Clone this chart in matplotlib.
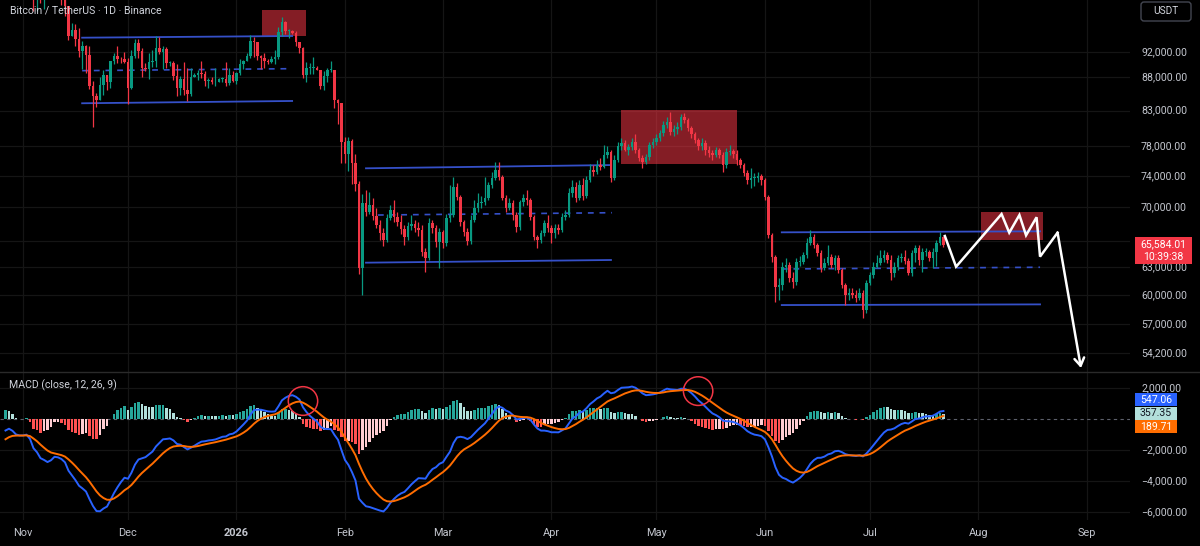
import numpy as np
import matplotlib
matplotlib.use("Agg")
import matplotlib.pyplot as plt
import matplotlib.transforms as mtransforms
from matplotlib.patches import Rectangle, Ellipse, FancyBboxPatch
from matplotlib.lines import Line2D
from matplotlib.ticker import NullLocator

plt.rcParams['font.family'] = ['Roboto', 'DejaVu Sans']

# ---------------- data ----------------
first_day = -5          # day index of the first candle (0 = 1 Nov 2025)
first_open_k = 114.5    # open of the first candle, thousand USDT

closes_k = [
    114.1, 112.9, 110.0, 108.3, 109.6, 110.1, 110.6, 106.5, 101.5, 103.9,   # -5..4
    101.3, 103.3, 102.3, 104.7, 106.0, 103.0, 101.6, 99.7, 94.6, 95.6,      # 5..14
    94.2, 92.2, 92.9, 91.5, 86.6, 85.1, 84.6, 86.8, 88.3, 87.3,             # 15..24
    90.5, 91.3, 90.9, 90.8, 90.4, 86.3, 91.3, 93.5, 92.1, 89.4,             # 25..34
    89.3, 90.4, 90.6, 92.7, 92.0, 92.5, 90.3, 90.3, 88.2, 86.4,             # 35..44
    87.8, 86.1, 85.5, 88.1, 88.3, 88.6, 88.5, 87.4, 87.6, 87.2,             # 45..54
    87.3, 87.8, 87.8, 87.1, 88.4, 87.5, 88.7, 90.0, 90.6, 91.4,             # 55..64
    93.8, 93.7, 91.3, 91.0, 90.5, 90.4, 90.8, 91.2, 95.3, 97.0,             # 65..74
    95.5, 95.5, 95.1, 93.6, 92.6, 88.3, 89.4, 89.4, 89.5, 89.2,             # 75..84
    86.6, 88.2, 89.2, 89.2, 84.5, 84.1, 78.6, 76.9, 78.7, 75.7,             # 85..94
    73.0, 62.9, 70.5, 69.45, 70.31, 68.96, 67.88, 66.94, 66.11, 68.72,      # 95..104
    69.69, 68.84, 68.24, 67.41, 66.46, 67.76, 68.00, 67.53, 67.29, 64.73,   # 105..114
    64.05, 68.12, 67.53, 65.88, 67.05, 65.77, 68.72, 69.08, 72.56, 71.31,   # 115..124
    68.24, 67.05, 66.00, 68.48, 69.94, 70.56, 70.68, 71.18, 72.82, 73.73,   # 125..134
    74.77, 73.86, 71.18, 69.94, 70.56, 69.08, 67.64, 70.68, 71.18, 70.93,   # 135..144
    68.84, 66.46, 66.11, 66.94, 68.12, 67.53, 66.94, 67.53, 67.29, 68.84,   # 145..154
    69.08, 71.81, 72.56, 71.18, 72.82, 71.43, 73.47, 74.77, 74.51, 75.43,   # 155..164
    75.16, 76.77, 77.17, 73.73, 76.10, 77.99, 78.41, 77.44, 77.85, 78.55,   # 165..174
    77.44, 76.37, 75.83, 76.50, 78.13, 78.55, 79.09, 79.79, 80.92, 81.35,   # 175..184
    79.93, 80.35, 80.64, 82.07, 81.64, 80.50, 79.65, 78.82, 77.99, 78.41,   # 185..194
    77.44, 77.04, 76.77, 77.44, 76.77, 75.43, 77.17, 77.31, 76.90, 76.10,   # 195..204
    75.43, 74.38, 73.47, 73.73, 73.73, 73.99, 73.47, 71.31, 66.70, 64.16,   # 205..214
    60.87, 61.09, 63.05, 63.27, 61.85, 61.41, 63.61, 63.61, 64.39, 65.77,   # 215..224
    66.46, 65.54, 64.62, 62.94, 63.50, 64.16, 63.27, 64.05, 62.72, 61.09,   # 225..234
    60.02, 60.23, 60.02, 59.71, 60.23, 58.46, 61.30, 62.17, 63.05, 63.50,   # 235..244
    64.05, 64.39, 63.83, 62.39, 63.05, 64.05, 64.16, 63.72, 62.39, 64.62,   # 245..254
    65.19, 63.83, 64.73, 64.73, 64.05, 64.73, 65.77, 66.46, 65.58401,       # 255..263
]
highs_k = [
    116.1, 116.0, 113.6, 111.5, 111.2, 110.6, 111.2, 110.8, 106.6, 104.5,
    104.0, 104.0, 103.4, 105.0, 106.6, 107.5, 105.3, 104.0, 99.8, 96.8,
    96.6, 96.0, 93.8, 93.2, 93.0, 87.5, 85.6, 88.0, 89.2, 88.3,
    90.6, 91.9, 93.0, 91.2, 92.0, 91.0, 92.3, 94.1, 94.1, 92.7,
    90.3, 91.8, 92.3, 94.6, 94.5, 93.0, 92.8, 90.6, 90.5, 90.1,
    88.2, 90.4, 89.5, 89.4, 88.6, 89.1, 90.6, 88.9, 87.9, 88.0,
    89.5, 87.9, 88.0, 90.4, 89.4, 89.0, 88.8, 90.9, 90.7, 91.8,
    94.8, 94.4, 93.6, 91.5, 91.8, 90.8, 91.4, 92.4, 96.2, 97.9,
    97.1, 95.8, 95.6, 95.4, 93.4, 92.8, 90.4, 90.3, 91.2, 89.8,
    89.2, 88.9, 89.4, 90.6, 89.2, 84.7, 84.1, 79.3, 79.3, 79.0,
    76.9, 73.3, 71.7, 72.19, 71.94, 71.18, 69.94, 68.48, 67.53, 69.20,
    70.31, 70.93, 69.45, 69.08, 67.88, 68.24, 69.08, 68.48, 68.24, 67.88,
    65.19, 68.72, 68.48, 67.88, 67.53, 67.29, 69.20, 72.82, 73.86, 73.08,
    71.56, 68.48, 67.53, 69.08, 70.93, 71.81, 71.43, 73.86, 73.21, 74.51,
    75.83, 75.83, 74.12, 71.56, 71.18, 70.93, 69.45, 70.93, 71.68, 72.19,
    71.18, 69.08, 66.70, 67.29, 68.48, 69.08, 67.88, 68.00, 68.00, 69.32,
    69.69, 72.44, 73.47, 73.21, 73.47, 73.73, 73.99, 75.56, 75.43, 76.10,
    76.37, 78.13, 77.99, 77.44, 76.77, 78.55, 79.09, 78.82, 78.27, 79.09,
    79.65, 77.71, 76.77, 76.90, 78.55, 79.09, 79.65, 80.21, 81.50, 82.07,
    82.79, 80.92, 81.35, 82.50, 82.64, 81.93, 80.78, 79.93, 79.09, 79.09,
    78.82, 77.99, 77.44, 77.85, 77.71, 77.17, 77.71, 78.13, 77.58, 77.44,
    76.37, 75.69, 74.77, 75.03, 74.38, 74.51, 74.25, 73.73, 71.56, 66.94,
    64.39, 61.85, 63.61, 64.05, 63.61, 62.50, 64.05, 64.28, 64.73, 66.35,
    67.29, 66.82, 65.77, 64.96, 64.05, 65.54, 64.50, 64.39, 64.39, 62.94,
    61.30, 60.76, 60.76, 60.55, 60.76, 60.55, 61.63, 62.50, 63.61, 64.39,
    64.96, 64.96, 64.73, 64.39, 63.61, 64.39, 64.62, 64.96, 64.05, 64.96,
    65.54, 65.54, 65.19, 65.19, 64.96, 65.19, 66.11, 67.05, 66.58,
]
lows_k = [
    113.8, 112.2, 109.4, 106.3, 108.4, 109.4, 109.5, 105.3, 98.9, 98.9,
    100.3, 99.3, 101.4, 101.5, 104.3, 102.5, 100.0, 98.0, 94.0, 94.6,
    93.0, 91.2, 89.3, 88.6, 86.2, 80.6, 83.5, 84.7, 85.3, 86.1,
    86.3, 90.1, 90.2, 90.3, 90.3, 83.9, 86.2, 91.0, 91.0, 88.1,
    88.9, 87.7, 89.6, 89.6, 91.6, 89.3, 89.5, 89.8, 87.6, 85.1,
    85.3, 85.3, 84.4, 85.1, 88.0, 87.6, 87.9, 86.6, 86.4, 86.9,
    86.6, 87.3, 87.3, 86.7, 86.8, 87.2, 87.0, 88.3, 89.3, 90.5,
    91.0, 91.2, 90.7, 89.3, 89.5, 90.1, 90.2, 90.0, 90.9, 94.7,
    94.9, 94.3, 94.9, 92.9, 91.9, 87.9, 87.3, 88.5, 88.5, 89.1,
    86.2, 86.1, 87.3, 88.8, 83.4, 81.1, 75.7, 75.7, 74.6, 72.9,
    72.1, 62.3, 60.0, 68.96, 69.20, 68.48, 67.53, 66.11, 65.42, 65.88,
    68.48, 68.24, 67.76, 66.82, 65.54, 66.11, 67.29, 67.05, 66.58, 64.28,
    62.50, 63.83, 66.94, 65.31, 62.94, 65.19, 65.42, 68.24, 68.84, 70.93,
    67.76, 66.58, 65.54, 65.65, 68.24, 69.45, 69.94, 70.31, 70.93, 72.44,
    73.47, 73.47, 70.93, 69.45, 69.69, 68.48, 67.05, 67.29, 70.18, 70.31,
    68.48, 66.11, 65.19, 65.77, 66.58, 67.05, 65.77, 66.35, 66.82, 67.05,
    68.48, 68.84, 71.31, 70.68, 70.93, 70.93, 71.18, 73.21, 73.99, 74.25,
    74.77, 75.03, 76.37, 73.21, 73.47, 75.83, 77.44, 77.31, 76.77, 77.44,
    77.04, 75.96, 75.03, 75.56, 76.10, 77.71, 78.13, 78.68, 79.37, 80.50,
    79.51, 79.37, 79.65, 80.21, 81.21, 80.07, 79.09, 78.41, 77.44, 77.44,
    76.77, 76.50, 76.10, 76.50, 76.37, 74.51, 75.03, 76.77, 76.37, 75.43,
    75.03, 73.99, 72.95, 72.44, 72.69, 73.21, 72.82, 70.93, 66.35, 63.61,
    59.29, 59.50, 60.55, 62.50, 61.41, 60.76, 61.09, 63.16, 63.38, 64.05,
    65.54, 65.19, 64.28, 62.50, 62.72, 63.27, 62.94, 62.72, 62.39, 60.76,
    58.98, 59.50, 59.71, 59.29, 59.50, 57.64, 58.15, 61.09, 61.85, 62.94,
    63.27, 63.61, 63.50, 61.63, 61.96, 62.72, 63.61, 63.38, 62.17, 62.06,
    63.61, 63.27, 62.50, 64.28, 63.72, 62.94, 63.16, 65.54, 65.31,
]

month_days = [0, 30, 61, 92, 120, 151, 181, 212, 242, 273, 304]
month_labels = ['Nov', 'Dec', '2026', 'Feb', 'Mar', 'Apr', 'May', 'Jun', 'Jul', 'Aug', 'Sep']

price_grid = [92000, 88000, 83000, 78000, 74000, 70000, 66000, 63000, 60000, 57000, 54200]
price_tick_labels = [92000, 88000, 83000, 78000, 74000, 70000, 63000, 60000, 57000, 54200]
macd_ticks = [2000, -2000, -4000, -6000]

# last values shown in the scale labels
last_price_label = 65584.01
countdown_label = "10:39:38"
macd_last_labels = [547.06, 357.35, 189.71]   # MACD, histogram, signal

# MACD (close, 12, 26, 9) state at the left edge of the chart
ema12_seed = 111800
ema26_seed = 112800
signal_seed = -1450

# drawings: parallel channels (day, price)
chan1_days = [16.9, 76.9]
chan1_top = [94340, 94620]
chan1_mid = [89030, 89340]
chan1_bot = [84070, 84410]
chan2_days = [98.0, 168.0]
chan2_top = [74990, 75420]
chan2_mid_days = [101.4, 168.3]
chan2_mid = [69080, 69360]
chan2_bot = [63530, 63830]
chan3_days = [216.8, 290.6]
chan3_top = [67010, 67130]
chan3_mid = [62830, 63020]
chan3_bot = [58970, 59040]

# red zones
zone_days = [(68.3, 80.9), (170.9, 204.0), (273.7, 291.5)]
zone_prices = [(94620, 99050), (75560, 83080), (66110, 69490)]

# projected path
path_days = [263.4, 266.6, 279.6, 281.8, 284.7, 286.6, 289.6, 290.6, 295.6, 302.3]
path_prices = [66580, 63080, 69200, 66970, 69080, 66660, 68810, 64210, 66970, 52790]

# circles on the MACD panel
circle_days = [80.0, 192.9]
circle_values = [1160, 1800]

# ---------------- figure ----------------
W, H = 1200, 546
fig = plt.figure(figsize=(W / 100, H / 100), dpi=100, facecolor='black')


def rect(x0, y0, x1, y1):
    return [x0 / W, 1 - y1 / H, (x1 - x0) / W, (y1 - y0) / H]


ax = fig.add_axes(rect(0, 0, 1130, 372))
axm = fig.add_axes(rect(0, 372, 1130, 520))
ax.set_yscale('log')
for a in (ax, axm):
    a.set_facecolor('black')
    for s in a.spines.values():
        s.set_visible(False)
    a.set_xlim(-6.57, 316.3)
ax.set_ylim(52425, 100800)
axm.set_ylim(-6516, 3032)
for a in (ax, axm):
    a.yaxis.set_major_locator(NullLocator())
    a.yaxis.set_minor_locator(NullLocator())
    a.xaxis.set_major_locator(NullLocator())
    a.xaxis.set_minor_locator(NullLocator())

GRID = '#151515'
for d in month_days:
    ax.axvline(d, color=GRID, lw=0.9, zorder=0)
    axm.axvline(d, color=GRID, lw=0.9, zorder=0)
for p in price_grid:
    ax.axhline(p, color=GRID, lw=0.9, zorder=0)
for v in macd_ticks:
    axm.axhline(v, color=GRID, lw=0.9, zorder=0)

# ---------------- candles ----------------
closes = np.array(closes_k) * 1000.0
highs = np.array(highs_k) * 1000.0
lows = np.array(lows_k) * 1000.0
n = len(closes)
if len(highs) != n or len(lows) != n:
    raise SystemExit(f"length mismatch {n} {len(highs)} {len(lows)}")
days = np.arange(first_day, first_day + n)
opens = np.concatenate([[first_open_k * 1000.0], closes[:-1]])
highs = np.maximum(highs, np.maximum(opens, closes))
lows = np.minimum(lows, np.minimum(opens, closes))
UP, DN = '#089981', '#F23645'
cols = np.where(closes >= opens, UP, DN)
ax.vlines(days, lows, highs, colors=cols, lw=0.9, zorder=4)
body_bot = np.minimum(opens, closes)
body_h = np.maximum(np.abs(closes - opens), closes * 0.0016)
ax.bar(days, body_h, bottom=body_bot, width=0.74, color=cols, lw=0, zorder=5)

# ---------------- drawings ----------------
CH = '#3550c8'
for dd, top, mid, bot, mdays in [
    (chan1_days, chan1_top, chan1_mid, chan1_bot, chan1_days),
    (chan2_days, chan2_top, chan2_mid, chan2_bot, chan2_mid_days),
    (chan3_days, chan3_top, chan3_mid, chan3_bot, chan3_days),
]:
    ax.plot(dd, top, color=CH, lw=1.3, zorder=3)
    ax.plot(dd, bot, color=CH, lw=1.3, zorder=3)
    ax.plot(mdays, mid, color=CH, lw=1.2, ls=(0, (3.5, 3.5)), zorder=3)

for (d0, d1), (p0, p1) in zip(zone_days, zone_prices):
    ax.add_patch(Rectangle((d0, p0), d1 - d0, p1 - p0, facecolor='#F23645',
                           alpha=0.55, edgecolor='none', zorder=2))

ax.plot(path_days[:-1], path_prices[:-1], color='white', lw=1.8, zorder=7,
        solid_joinstyle='miter')
ax.annotate('', xy=(path_days[-1], path_prices[-1]),
            xytext=(path_days[-2], path_prices[-2]),
            arrowprops=dict(arrowstyle='->,head_length=0.55,head_width=0.35',
                            color='white', lw=1.8, shrinkA=0, shrinkB=0), zorder=7)

# ---------------- MACD ----------------
e12, e26, sig = float(ema12_seed), float(ema26_seed), float(signal_seed)
macd, signal = [], []
for c in closes:
    e12 += 2.0 / 13.0 * (c - e12)
    e26 += 2.0 / 27.0 * (c - e26)
    m = e12 - e26
    sig += 0.2 * (m - sig)
    macd.append(m)
    signal.append(sig)
macd = np.array(macd)
signal = np.array(signal)
hist = macd - signal
prev = np.concatenate([[ema12_seed - ema26_seed - signal_seed], hist[:-1]])
hcol = []
for h, p in zip(hist, prev):
    if h >= 0:
        hcol.append('#26A69A' if h > p else '#B2DFDB')
    else:
        hcol.append('#FFCDD2' if h > p else '#FF5252')
axm.axhline(0, color='#5d606b', lw=0.8, ls=(0, (3, 3)), zorder=1)
axm.bar(days, hist, width=0.74, color=hcol, lw=0, zorder=2)
axm.plot(days, macd, color='#2962FF', lw=1.4, zorder=4)
axm.plot(days, signal, color='#FF6D00', lw=1.4, zorder=4)
for d, v in zip(circle_days, circle_values):
    axm.add_patch(Ellipse((d, v), 8.4, 1850, fill=False, edgecolor='#F23645',
                          lw=1.1, zorder=5))

# ---------------- texts ----------------
TXT = '#c3c6ce'
FS = 7.6
tr_p = mtransforms.blended_transform_factory(fig.transFigure, ax.transData)
for p in price_tick_labels:
    fig.text(1141 / W, p, f"{p:,.2f}", transform=tr_p, ha='left', va='center',
             color=TXT, fontsize=FS, zorder=3)
tr_m = mtransforms.blended_transform_factory(fig.transFigure, axm.transData)
for v in macd_ticks:
    fig.text(1141 / W, v, f"{v:,.2f}".replace('-', '\u2212'), transform=tr_m,
             ha='left', va='center', color=TXT, fontsize=FS, zorder=3)
tr_x = mtransforms.blended_transform_factory(axm.transData, fig.transFigure)
for d, lab in zip(month_days, month_labels):
    fig.text(d, 1 - 533 / H, lab, transform=tr_x, ha='center', va='center',
             color=TXT, fontsize=FS + 0.3,
             fontweight='bold' if lab == '2026' else 'normal', zorder=3)

fig.text(10 / W, 1 - 11 / H, "Bitcoin / TetherUS \u00b7 1D \u00b7 Binance",
         ha='left', va='center', color='#d1d4dc', fontsize=FS, zorder=3)
fig.text(9 / W, 1 - 385 / H, "MACD (close, 12, 26, 9)", ha='left', va='center',
         color='#d1d4dc', fontsize=FS, zorder=3)

fig.add_artist(Line2D([0, 1], [1 - 372 / H] * 2, transform=fig.transFigure,
                      color='#2a2a2a', lw=1.0, zorder=2))

IDT = mtransforms.IdentityTransform()
fig.add_artist(FancyBboxPatch((1141, H - 21), 50, 19,
                              boxstyle='round,pad=0,rounding_size=3',
                              transform=IDT, facecolor='black',
                              edgecolor='#434651', lw=1.0, zorder=4))
fig.text(1166 / W, 1 - 11.5 / H, "USDT", ha='center', va='center', color='#d1d4dc',
         fontsize=FS - 0.3, zorder=5)

# last price label
yl = ax.transData.transform((days[-1], last_price_label))[1]
fig.add_artist(Rectangle((1135, yl - 19), 57, 27, transform=IDT,
                         facecolor='#F23645', edgecolor='none', zorder=6))
fig.text(1163.5 / W, yl / H, f"{last_price_label:,.2f}", ha='center', va='center',
         color='white', fontsize=FS, zorder=7)
fig.text(1163.5 / W, (yl - 12.5) / H, countdown_label, ha='center', va='center',
         color='white', fontsize=FS, zorder=7)

# MACD value labels (stacked like the scale does)
yh = axm.transData.transform((days[-1], macd_last_labels[1]))[1]
for yc, val, bg, fg in [(yh + 13.5, macd_last_labels[0], '#2962FF', 'white'),
                        (yh, macd_last_labels[1], '#B2DFDB', '#131722'),
                        (yh - 13.5, macd_last_labels[2], '#FF6D00', 'white')]:
    fig.add_artist(Rectangle((1135, yc - 6.5), 42, 13, transform=IDT,
                             facecolor=bg, edgecolor='none', zorder=6))
    fig.text(1156 / W, yc / H, f"{val:,.2f}", ha='center', va='center',
             color=fg, fontsize=FS, zorder=7)

fig.savefig('out.png', dpi=100, facecolor='black')
